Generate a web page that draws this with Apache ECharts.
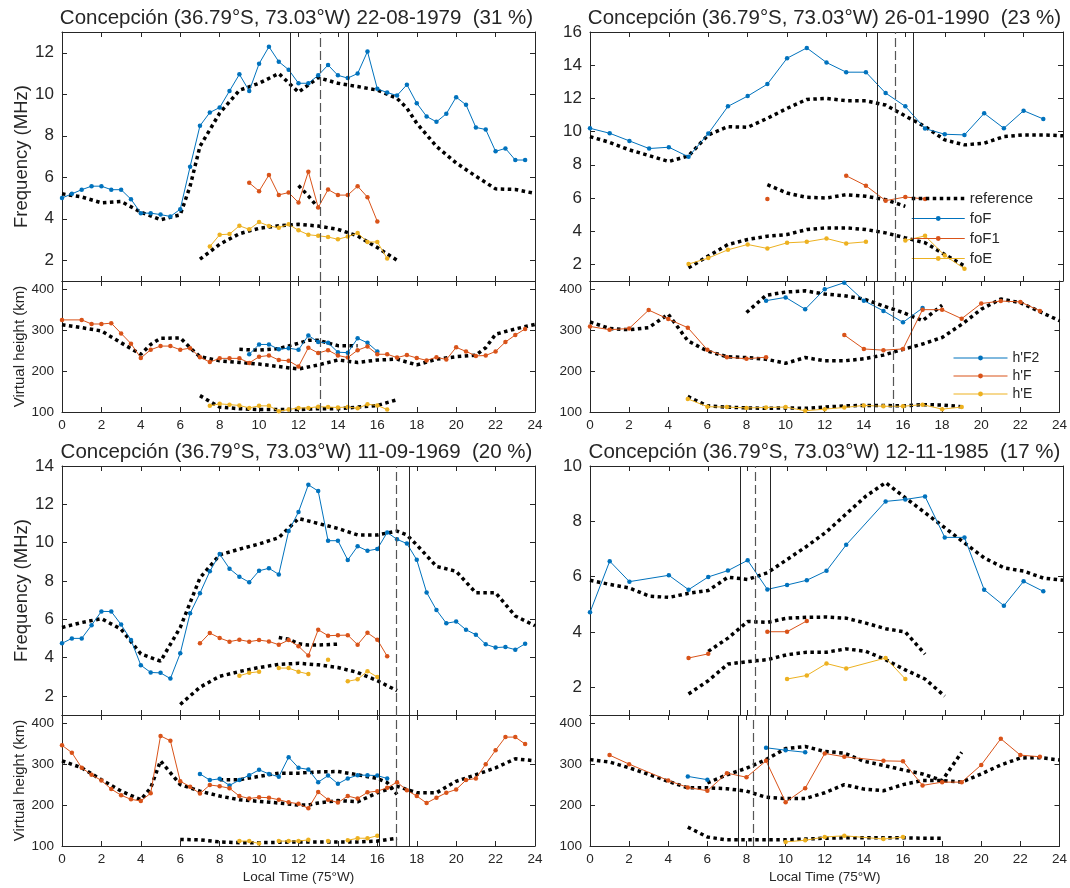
<!DOCTYPE html>
<html>
<head>
<meta charset="utf-8">
<script src="https://cdn.jsdelivr.net/npm/echarts@6/dist/echarts.min.js"></script>
<style>
  html, body { margin: 0; background: #fff; }
  #main { width: 1070px; height: 888px; }
</style>
</head>
<body>
<div id="main"></div>
<script>
// ---- 22-08-1979 ----
var foF_1979 = [[0,5.0],[0.5,5.2],[1,5.4],[1.5,5.57],[2,5.57],[2.5,5.4],[3,5.4],[3.5,4.94],[4,4.27],[4.5,4.27],[5,4.2],[5.5,4.11],[6,4.46],[6.5,6.51],[7,8.48],[7.5,9.12],[8,9.36],[8.5,10.16],[9,10.96],[9.5,10.16],[10,11.47],[10.5,12.29],[11,11.57],[11.5,11.18],[12,10.53],[12.5,10.53],[13,10.91],[13.5,11.41],[14,10.91],[14.5,10.78],[15,11.0],[15.5,12.06],[16,10.26],[16.5,10.08],[17,9.94],[17.5,10.46],[18,9.57],[18.5,8.93],[19,8.67],[19.5,9.06],[20,9.86],[20.5,9.49],[21,8.4],[21.5,8.3],[22,7.25],[22.5,7.39],[23,6.83],[23.5,6.83]];
var foF1_1979 = [[9.5,5.73],[10,5.33],[10.5,6.11],[11,5.15],[11.5,5.26],[12,4.78],[12.5,6.27],[13,4.54],[13.5,5.41],[14,5.14],[14.5,5.14],[15,5.57],[15.5,5.04],[16,3.87]];
var foE_1979 = [[7.5,2.66],[8,3.23],[8.5,3.26],[9,3.66],[9.5,3.49],[10,3.84],[10.5,3.65],[11,3.57],[11.5,3.73],[12,3.44],[12.5,3.23],[13,3.18],[13.5,3.12],[14,3.01],[14.5,3.14],[15,3.31],[15.5,2.88],[16,2.88],[16.5,2.08]];
var refFoF_1979 = [[0,5.2],[1,5.05],[2,4.77],[3,4.83],[4,4.32],[5,3.95],[6,4.19],[6.5,5.57],[7,7.49],[8,9.09],[9,10.19],[10,10.53],[11,11.0],[12,10.1],[13,10.8],[14,10.53],[15,10.37],[16,10.2],[17,9.8],[17.5,9.33],[18,8.6],[19,7.49],[20,6.69],[21,6.05],[22,5.44],[23,5.41],[24,5.22]];
var refFoF1_1979 = [[12,5.6],[12.5,5.1],[13,4.53]];
var refFoE_1979 = [[7,2.05],[8,2.77],[9,3.28],[10,3.54],[11,3.66],[12,3.73],[13,3.65],[14,3.49],[15,3.17],[16,2.61],[17,2.0]];
var hF2_1979 = [[9.5,241],[10,265],[10.5,265],[11,253],[11.5,256],[12,252],[12.5,287],[13,271],[13.5,269],[14,246],[14.5,245],[15,280],[15.5,269],[16,248]];
var hF_1979 = [[0,325],[1,325],[1.5,315],[2,315],[2.5,317],[3,292],[3.5,267],[4,232],[4.5,252],[5,261],[5.5,261],[6,252],[6.5,256],[7,234],[7.5,222],[8,231],[8.5,231],[9,231],[9.5,220],[10,235],[10.5,238],[11,227],[11.5,225],[12,211],[12.5,257],[13,244],[13.5,251],[14,238],[14.5,233],[15,251],[15.5,260],[16,241],[16.5,241],[17,233],[17.5,239],[18,232],[18.5,226],[19,234],[19.5,228],[20,258],[20.5,248],[21,237],[21.5,238],[22,248],[22.5,271],[23,288],[23.5,303]];
var hE_1979 = [[7.5,115],[8,120],[8.5,118],[9,116],[9.5,110],[10,115],[10.5,115],[11,102],[11.5,106],[12,110],[12.5,110],[13,113],[13.5,112],[14,111],[14.5,112],[15,109],[15.5,119],[16,116],[16.5,106]];
var refHF_1979 = [[0,313],[1,306],[2,298],[3,269],[4,241],[4.5,265],[5,280],[6,281],[6.5,257],[7,235],[8,225],[9,221],[10,217],[11,211],[12,205],[13,215],[14,227],[15,221],[16,227],[17,229],[18,215],[19,229],[20,235],[21,239],[21.5,257],[22,290],[23,303],[24,314]];
var refHF2_1979 = [[9,253],[10,251],[11,255],[12,268],[12.5,275],[13,275],[14,262],[15,262]];
var refHE_1979 = [[7,140],[8,112],[9,108],[10,106],[11,106],[12,106],[13,108],[14,108],[15,112],[16,116],[17,130]];
var cuts_1979 = [11.6, 13.1, 14.5];

// ---- 26-01-1990 ----
var foF_1990 = [[0,10.2],[1,9.9],[2,9.44],[3,8.98],[4,9.06],[5,8.48],[6,9.88],[7,11.52],[8,12.14],[9,12.86],[10,14.42],[11,15.04],[12,14.16],[13,13.58],[14,13.58],[15,12.32],[16,11.52],[17,10.18],[18,9.84],[19,9.8],[20,11.1],[21,10.2],[22,11.26],[23,10.76]];
var foF1_1990 = [[9,5.94],[10,null],[13,7.34],[14,6.74],[15,5.84],[16,6.06],[17,5.94]];
var foE_1990 = [[5,2.02],[6,2.38],[7,2.88],[8,3.2],[9,2.96],[10,3.3],[11,3.36],[12,3.56],[13,3.26],[14,3.36],[15,null],[16,3.44],[17,3.72],[18,2.54],[19,1.74]];
var refFoF_1990 = [[0,9.7],[1,9.35],[2,8.9],[3,8.55],[4,8.2],[5,8.54],[6,9.8],[7,10.3],[8,10.26],[9,10.8],[10,11.4],[11,11.94],[12,12.0],[13,11.86],[14,11.86],[15,11.6],[16,10.94],[17,10.3],[18,9.5],[19,9.2],[20,9.3],[21,9.7],[22,9.8],[23,9.8],[24,9.75]];
var refFoF1_1990 = [[9,6.8],[10,6.3],[11,6.04],[12,6.0],[13,6.2],[14,6.1],[15,5.9],[16,5.5]];
var refFoE_1990 = [[5,1.8],[6,2.5],[7,3.2],[8,3.5],[9,3.7],[10,3.8],[11,4.1],[12,4.2],[13,4.2],[14,4.1],[15,3.9],[16,3.6],[17,3.3],[18,2.6],[19,1.9]];
var hF2_1990 = [[9,372],[10,380],[11,351],[12,400],[13,416],[14,372],[15,347],[16,319],[17,354]];
var hF_1990 = [[0,309],[1,301],[2,304],[3,349],[4,327],[5,306],[6,252],[7,234],[8,230],[9,234],[11,null],[13,288],[14,254],[15,251],[16,254],[17,350],[18,350],[19,328],[20,365],[21,371],[22,369],[23,347]];
var hE_1990 = [[5,132],[6,113],[7,112],[8,110],[9,111],[10,112],[11,103],[12,107],[13,111],[14,116],[15,114],[16,114],[17,118],[18,107],[19,112]];
var refHF_1990 = [[0,320],[1,304],[2,301],[3,306],[4,339],[5,274],[6,249],[7,235],[8,233],[9,229],[10,219],[11,233],[12,225],[13,225],[14,230],[15,239],[16,253],[17,266],[18,282],[19,314],[20,351],[21,376],[22,367],[23,345],[24,323]];
var refHF2_1990 = [[8,343],[9,385],[10,393],[11,396],[12,388],[13,384],[14,376],[15,359],[16,343],[17,323],[18,361]];
var refHE_1990 = [[5,138],[6,115],[7,112],[8,110],[9,109],[10,110],[11,109],[12,112],[13,115],[14,116],[15,116],[16,115],[17,118],[18,117],[19,113]];
var cuts_1990 = [14.55, 15.5, 16.4];

// ---- 11-09-1969 ----
var foF_1969 = [[0,4.74],[0.5,5.0],[1,5.0],[1.5,5.69],[2,6.41],[2.5,6.4],[3,5.72],[3.5,4.91],[4,3.6],[4.5,3.22],[5,3.2],[5.5,2.9],[6,4.22],[6.5,6.31],[7,7.36],[7.5,8.5],[8,9.4],[8.5,8.64],[9,8.22],[9.5,7.93],[10,8.53],[10.5,8.66],[11,8.34],[11.5,10.6],[12,11.6],[12.5,13.02],[13,12.69],[13.5,10.1],[14,10.1],[14.5,9.09],[15,9.81],[15.5,9.57],[16,9.67],[16.5,10.53],[17,10.17],[17.5,9.95],[18,9.1],[18.5,7.4],[19,6.48],[19.5,5.79],[20,5.88],[20.5,5.45],[21,5.19],[21.5,4.69],[22,4.52],[22.5,4.55],[23,4.41],[23.5,4.72]];
var foF1_1969 = [[7,4.74],[7.5,5.28],[8,5.02],[8.5,4.83],[9,4.93],[9.5,4.83],[10,4.91],[10.5,4.84],[11,4.67],[11.5,4.91],[12,4.59],[12.5,4.1],[13,5.45],[13.5,5.14],[14,5.16],[14.5,5.17],[15,4.67],[15.5,5.29],[16,4.93],[16.5,4.07]];
var foE_1969 = [[9,3.05],[9.5,3.2],[10,3.26],[10.5,null],[11,3.45],[11.5,3.45],[12,3.26],[12.5,3.14],[13,null],[13.5,3.88],[14,null],[14.5,2.76],[15,2.86],[15.5,3.29],[16,2.98]];
var refFoF_1969 = [[0,5.57],[1,5.83],[2,6.03],[3,5.48],[4,4.19],[5,3.81],[6,5.57],[7,8.16],[8,9.36],[9,9.66],[10,9.93],[11,10.26],[12,11.26],[13,11.0],[14,10.74],[15,10.4],[16,10.4],[17,10.6],[17.5,10.4],[18,9.88],[19,8.76],[20,8.5],[21,7.38],[22,7.38],[23,6.17],[24,5.66]];
var refFoF1_1969 = [[11,5.05],[11.5,4.95],[12,4.72],[12.5,4.65],[13,4.65],[14,4.7]];
var refFoE_1969 = [[6,1.55],[7,2.45],[8,3.02],[9,3.27],[10,3.48],[11,3.64],[12,3.7],[13,3.62],[14,3.48],[15,3.22],[16,2.79],[17,2.27]];
var hF2_1969 = [[7,276],[7.5,261],[8,264],[8.5,248],[9,261],[9.5,273],[10,286],[10.5,276],[11,269],[11.5,317],[12,291],[12.5,287],[13,256],[13.5,272],[14,252],[14.5,265],[15,273],[15.5,273],[16,272],[16.5,265]];
var hF_1969 = [[0,346],[0.5,328],[1,291],[1.5,274],[2,260],[2.5,239],[3,224],[3.5,214],[4,210],[4.5,229],[5,369],[5.5,357],[6,258],[6.5,245],[7,228],[7.5,249],[8,246],[8.5,241],[9,222],[9.5,216],[10,219],[10.5,218],[11,213],[11.5,207],[12,203],[12.5,192],[13,232],[13.5,213],[14,206],[14.5,222],[15,216],[15.5,231],[16,234],[16.5,242],[17,256],[17.5,236],[18,222],[18.5,205],[19,218],[19.5,230],[20,238],[20.5,261],[21,265],[21.5,300],[22,334],[22.5,366],[23,366],[23.5,349]];
var hE_1969 = [[9,112],[9.5,112],[10,106],[10.5,null],[11,112],[11.5,112],[12,112],[12.5,115],[13,null],[13.5,112],[14,null],[14.5,114],[15,119],[15.5,119],[16,125]];
var refHF_1969 = [[0,308],[1,291],[2,262],[3,234],[4,213],[4.5,242],[5,308],[6,250],[7,234],[8,222],[9,213],[10,209],[11,205],[12,200],[12.5,200],[13,205],[14,211],[15,208],[16,230],[17,246],[17.5,238],[18,230],[19,230],[20,258],[21,274],[22,291],[23,313],[24,308]];
var refHF2_1969 = [[8,262],[9,262],[10,270],[11,278],[12,278],[13,281],[14,282],[15,274],[16,265],[16.5,255],[17,226]];
var refHE_1969 = [[6,116],[7,115],[8,110],[9,108],[10,108],[11,109],[12,110],[13,110],[14,110],[15,110],[16,112],[17,119]];
var cuts_1969 = [16.1, 16.95, 17.64];

// ---- 12-11-1985 ----
var foF_1985 = [[0,4.71],[1,6.56],[2,5.82],[4,6.05],[5,5.53],[6,5.99],[7,6.22],[8,6.59],[9,5.54],[10,5.7],[11,5.87],[12,6.21],[13,7.15],[15,8.72],[16,8.79],[17,8.9],[18,7.42],[19,7.42],[20,5.53],[21,4.95],[22,5.83],[23,5.47]];
var foF1_1985 = [[5,3.06],[6,3.21],[7,null],[9,4.01],[10,4.01],[11,4.4]];
var foE_1985 = [[10,2.3],[11,2.43],[12,2.86],[13,2.68],[15,3.06],[16,2.3]];
var refFoF_1985 = [[0,5.87],[1,5.72],[2,5.59],[3,5.3],[4,5.25],[5,5.4],[6,5.5],[7,5.98],[8,5.9],[9,6.14],[10,6.62],[11,7.1],[12,7.62],[13,8.27],[14,8.91],[15,9.4],[16,8.85],[17,8.31],[18,7.77],[19,7.22],[20,6.68],[21,6.32],[22,6.2],[23,5.95],[24,5.87]];
var refFoF1_1985 = [[6,3.3],[7,3.78],[8,4.38],[9,4.35],[10,4.5],[11,4.53],[12,4.54],[13,4.5],[14,4.32],[15,4.12],[16,4.0],[17,3.2]];
var refFoE_1985 = [[5,1.76],[6,2.24],[7,2.84],[8,2.93],[9,3.0],[10,3.18],[11,3.27],[12,3.27],[13,3.39],[14,3.3],[15,3.0],[16,2.63],[17,2.3],[18,1.68]];
var hF2_1985 = [[5,270],[6,262],[7,null],[9,340],[10,334],[11,329]];
var hF_1985 = [[1,322],[2,300],[4,260],[5,243],[6,235],[7,278],[8,268],[9,308],[10,207],[11,241],[12,326],[13,318],[15,308],[16,307],[17,248],[18,256],[19,256],[20,298],[21,362],[22,322],[23,318]];
var hE_1985 = [[10,110],[11,114],[12,122],[13,125],[15,117],[16,122]];
var refHF_1985 = [[0,311],[1,305],[2,291],[3,275],[4,258],[5,242],[6,242],[7,240],[8,234],[9,219],[10,216],[11,216],[12,230],[13,250],[14,239],[15,235],[16,250],[17,260],[18,260],[19,256],[20,276],[21,298],[22,315],[23,316],[24,310]];
var refHF2_1985 = [[6,254],[7,274],[8,290],[9,311],[10,338],[11,343],[12,331],[13,327],[14,307],[15,297],[16,286],[17,276],[18,260],[19,329]];
var refHE_1985 = [[5,146],[6,122],[7,115],[8,115],[9,115],[10,115],[11,117],[12,119],[13,120],[14,120],[15,120],[16,120],[17,119],[18,119]];
var cuts_1985 = [7.6, 8.37, 9.13];

var hTicks = [100, 200, 300, 400];

var INK = '#262626';
var FONT = 'Liberation Sans, Arial, Helvetica, sans-serif';
var BLUE = '#0072BD', RED = '#D95319', YELLOW = '#EDB120';

var panels = [
  { title: 'Concepción (36.79°S, 73.03°W) 22-08-1979  (31 %)', left: 62, top: 32, fMax: 13,
    fObs: [foF_1979, foF1_1979, foE_1979], fRef: [refFoF_1979, refFoF1_1979, refFoE_1979],
    hObs: [hF2_1979, hF_1979, hE_1979], hRef: [refHF_1979, refHF2_1979, refHE_1979],
    cuts: cuts_1979, yNames: true, xName: false },
  { title: 'Concepción (36.79°S, 73.03°W) 26-01-1990  (23 %)', left: 590, top: 32, fMax: 16,
    fObs: [foF_1990, foF1_1990, foE_1990], fRef: [refFoF_1990, refFoF1_1990, refFoE_1990],
    hObs: [hF2_1990, hF_1990, hE_1990], hRef: [refHF_1990, refHF2_1990, refHE_1990],
    cuts: cuts_1990, yNames: false, xName: false },
  { title: 'Concepción (36.79°S, 73.03°W) 11-09-1969  (20 %)', left: 62, top: 466, fMax: 14,
    fObs: [foF_1969, foF1_1969, foE_1969], fRef: [refFoF_1969, refFoF1_1969, refFoE_1969],
    hObs: [hF2_1969, hF_1969, hE_1969], hRef: [refHF_1969, refHF2_1969, refHE_1969],
    cuts: cuts_1969, yNames: true, xName: true },
  { title: 'Concepción (36.79°S, 73.03°W) 12-11-1985  (17 %)', left: 590, top: 466, fMax: 10,
    fObs: [foF_1985, foF1_1985, foE_1985], fRef: [refFoF_1985, refFoF1_1985, refFoE_1985],
    hObs: [hF2_1985, hF_1985, hE_1985], hRef: [refHF_1985, refHF2_1985, refHE_1985],
    cuts: cuts_1985, yNames: false, xName: true }
];

var W = 473, FH = 249, HH = 131;

function pts(arr) {
  return arr.map(function (p) { return [p[0], p[1] == null ? '-' : p[1]]; });
}

function evenTicks(max) {
  var out = [];
  for (var v = 2; v <= max; v += 2) out.push(v);
  return out;
}

function xAx(grid, pos, labels, name) {
  return {
    type: 'value', gridIndex: grid, position: pos, min: 0, max: 24, interval: 2,
    name: name || '', nameLocation: 'middle', nameGap: 24,
    nameTextStyle: { color: INK, fontSize: 13.5, fontFamily: FONT },
    axisLine: { show: true, onZero: false, lineStyle: { color: INK, width: 1 } },
    axisTick: { show: true, inside: true, length: 5, lineStyle: { color: INK } },
    axisLabel: { show: labels, color: INK, fontSize: 13.5, fontFamily: FONT, margin: 6 },
    splitLine: { show: false }
  };
}

function yAx(grid, pos, min, max, ticks, labels, fs, name, nfs, gap) {
  return {
    type: 'value', gridIndex: grid, position: pos, min: min, max: max,
    name: name || '', nameLocation: 'middle', nameGap: gap || 30, nameRotate: 90,
    nameTextStyle: { color: INK, fontSize: nfs || 13, fontFamily: FONT },
    axisLine: { show: true, onZero: false, lineStyle: { color: INK, width: 1 } },
    axisTick: { show: true, inside: true, length: 5, customValues: ticks, lineStyle: { color: INK } },
    axisLabel: { show: labels, customValues: ticks, color: INK, fontSize: fs, fontFamily: FONT, margin: 8 },
    splitLine: { show: false }
  };
}

function refLine(data, ax) {
  return {
    name: 'reference', type: 'line', xAxisIndex: ax, yAxisIndex: ax, data: pts(data),
    symbol: 'none', z: 2, silent: true,
    lineStyle: { color: '#000', width: 3.5, type: 'dotted' },
    itemStyle: { color: '#000' }
  };
}

function obsLine(name, color, data, ax) {
  return {
    name: name, type: 'line', xAxisIndex: ax, yAxisIndex: ax, data: pts(data),
    symbol: 'circle', symbolSize: 4.5, showSymbol: true, z: 3, silent: true,
    lineStyle: { color: color, width: 1 },
    itemStyle: { color: color }
  };
}

function cutLines(cuts, ax) {
  return {
    name: 'cuts', type: 'line', xAxisIndex: ax, yAxisIndex: ax, data: [],
    z: 4, silent: true,
    markLine: {
      silent: true, symbol: 'none', animation: false, label: { show: false },
      data: cuts.map(function (c, i) {
        return {
          xAxis: c,
          lineStyle: i === 1 ? { color: '#555', width: 1.2, type: [9, 4] } : { color: INK, width: 1, type: 'solid' }
        };
      })
    }
  };
}

var grids = [], xAxes = [], yAxes = [], series = [], graphics = [];
var fNames = ['foF', 'foF1', 'foE'];
var hNames = ["h'F2", "h'F", "h'E"];
var cols = [BLUE, RED, YELLOW];

panels.forEach(function (p, i) {
  var gF = 2 * i, gH = 2 * i + 1;
  grids.push({ left: p.left, top: p.top, width: W, height: FH });
  grids.push({ left: p.left, top: p.top + FH, width: W, height: HH });

  var aF = 4 * i, aH = 4 * i + 2;
  xAxes.push(xAx(gF, 'bottom', false));
  xAxes.push(xAx(gF, 'top', false));
  xAxes.push(xAx(gH, 'bottom', true, p.xName ? 'Local Time (75°W)' : ''));
  xAxes.push(xAx(gH, 'top', false));

  var ft = evenTicks(p.fMax);
  yAxes.push(yAx(gF, 'left', 1, p.fMax, ft, true, 17, p.yNames ? 'Frequency (MHz)' : '', 18.5, 31));
  yAxes.push(yAx(gF, 'right', 1, p.fMax, ft, false, 17));
  yAxes.push(yAx(gH, 'left', 100, 420, hTicks, true, 13.5, p.yNames ? 'Virtual height (km)' : '', 15, 27));
  yAxes.push(yAx(gH, 'right', 100, 420, hTicks, false, 13.5));

  p.fRef.forEach(function (d) { series.push(refLine(d, aF)); });
  p.fObs.forEach(function (d, k) { series.push(obsLine(fNames[k], cols[k], d, aF)); });
  p.hRef.forEach(function (d) { series.push(refLine(d, aH)); });
  p.hObs.forEach(function (d, k) { series.push(obsLine(hNames[k], cols[k], d, aH)); });
  series.push(cutLines(p.cuts, aF));
  series.push(cutLines(p.cuts, aH));

  graphics.push({
    type: 'text', x: p.left + W / 2 - 2, y: p.top - 14, silent: true,
    style: { text: p.title, fill: INK, font: '20.5px ' + FONT, align: 'center', verticalAlign: 'middle' }
  });
});

var chart = echarts.init(document.getElementById('main'), null, { renderer: 'canvas' });

var thin = { width: 1 };
var option = {
  animation: false,
  backgroundColor: '#fff',
  grid: grids,
  xAxis: xAxes,
  yAxis: yAxes,
  legend: [
    {
      data: [
        { name: 'reference', itemStyle: { opacity: 0 }, lineStyle: { color: '#000', width: 3.5, type: 'dotted' } },
        { name: 'foF', lineStyle: thin },
        { name: 'foF1', lineStyle: thin },
        { name: 'foE', lineStyle: thin }
      ],
      orient: 'vertical', left: 910, top: 191, itemWidth: 53, itemHeight: 6, itemGap: 5,
      selectedMode: false, padding: 0,
      textStyle: { color: INK, fontSize: 15, fontFamily: FONT }
    },
    {
      data: hNames.map(function (n) { return { name: n, lineStyle: thin }; }),
      orient: 'vertical', left: 953, top: 351, itemWidth: 54, itemHeight: 6, itemGap: 4,
      selectedMode: false, padding: 0,
      textStyle: { color: INK, fontSize: 14, fontFamily: FONT }
    }
  ],
  graphic: graphics,
  series: series
};

chart.setOption(option);
</script>
</body>
</html>
